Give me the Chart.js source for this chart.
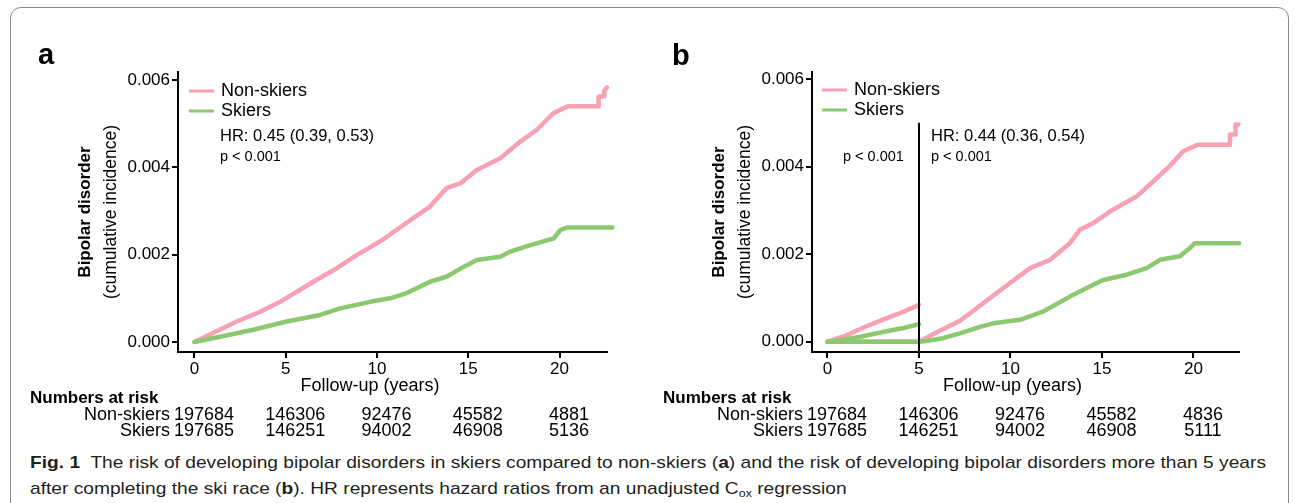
<!DOCTYPE html>
<html><head><meta charset="utf-8">
<script src="https://cdn.jsdelivr.net/npm/chart.js@4.4.1/dist/chart.umd.min.js"></script>
<style>
html,body{margin:0;padding:0;background:#fff;}
body{width:1295px;height:503px;position:relative;overflow:hidden;font-family:"Liberation Sans",Arial,sans-serif;}
#frame{position:absolute;left:10px;top:7px;width:1279px;height:530px;border:1.5px solid #8a8a8a;border-radius:11px;box-sizing:border-box;}
canvas{position:absolute;top:0;}
#ca{left:0;}
#cb{left:640px;}
#caption{position:absolute;left:30px;top:450px;font-family:"Liberation Sans Narrow","Liberation Sans",Arial,sans-serif;font-size:17px;color:#231f20;line-height:26px;white-space:nowrap;transform-origin:0 0;}
#caption div{display:inline-block;}
#caption sub{font-size:11px;line-height:0;vertical-align:-3px;}
</style></head>
<body>
<div id="frame"></div>
<canvas id="ca" width="645" height="445"></canvas>
<canvas id="cb" width="655" height="445"></canvas>
<div id="caption"><div id="cap1"><b>Fig. 1</b>&nbsp; The risk of developing bipolar disorders in skiers compared to non-skiers (<b>a</b>) and the risk of developing bipolar disorders more than 5 years</div><br><div id="cap2">after completing the ski race (<b>b</b>). HR represents hazard ratios from an unadjusted C<sub>ox</sub> regression</div></div>
<script>
// ---------- data ----------
const groups = ['Non-skiers', 'Skiers'];
const xTicks = [0, 5, 10, 15, 20];
const yTicks = [0, 0.002, 0.004, 0.006];
const riskYears = [0, 5, 10, 15, 20];

const aRiskNonSkiers = [197684, 146306, 92476, 45582, 4881];
const aRiskSkiers    = [197685, 146251, 94002, 46908, 5136];
const bRiskNonSkiers = [197684, 146306, 92476, 45582, 4836];
const bRiskSkiers    = [197685, 146251, 94002, 46908, 5111];

const aNonSkiersYears = [0, 1.04, 2.31, 3.59, 4.69, 6.51, 7.8, 8.89, 10.3, 11.45, 12.9, 13.83, 14.56, 15.47, 16.75, 17.85, 18.76, 19.67, 20.2, 20.5, 22.14, 22.14, 22.45, 22.45, 22.6];
const aNonSkiersCI    = [0, 0.00021, 0.00047, 0.00069, 0.00092, 0.00138, 0.00169, 0.00199, 0.00234, 0.00268, 0.0031, 0.00353, 0.00363, 0.00394, 0.00421, 0.00459, 0.00486, 0.00524, 0.00535, 0.0054, 0.0054, 0.00562, 0.00562, 0.00575, 0.00583];
const aSkiersYears = [0, 1.4, 3.22, 5.05, 6.88, 7.98, 9.62, 10.72, 11.63, 12.91, 13.83, 14.74, 15.47, 16.75, 17.3, 18.4, 19.67, 20.04, 20.4, 22.9];
const aSkiersCI    = [0, 0.00012, 0.00028, 0.00047, 0.00062, 0.00077, 0.00092, 0.001, 0.00112, 0.00138, 0.0015, 0.00172, 0.00188, 0.00195, 0.00207, 0.00222, 0.00237, 0.00256, 0.00262, 0.00262];

const bNonSkiersPreYears = [0, 1, 2, 3, 4, 5];
const bNonSkiersPreCI    = [0, 0.00014, 0.00033, 0.0005, 0.00066, 0.00084];
const bSkiersPreYears = [0, 1, 2, 3, 4, 5];
const bSkiersPreCI    = [0, 0.00005, 0.00013, 0.00022, 0.0003, 0.0004];
const bNonSkiersPostYears = [0, 5, 6, 7.24, 8.51, 9.97, 11.07, 12.16, 13.25, 13.8, 14.52, 15.62, 16.9, 17.8, 18.7, 19.44, 20.26, 22.0, 22.0, 22.3, 22.3, 22.45];
const bNonSkiersPostCI    = [0, 0, 0.00022, 0.00048, 0.00088, 0.00134, 0.00168, 0.00187, 0.00225, 0.00256, 0.00271, 0.00302, 0.00332, 0.00366, 0.00401, 0.00435, 0.0045, 0.0045, 0.00473, 0.00473, 0.00496, 0.00496];
const bSkiersPostYears = [0, 5, 5.5, 6.3, 7.24, 8.33, 9.06, 10.52, 11.79, 13.25, 14.52, 15.07, 16.35, 17.44, 18.17, 19.26, 19.81, 20.08, 22.5];
const bSkiersPostCI    = [0, 0, 0.00002, 0.00008, 0.00019, 0.00034, 0.00042, 0.0005, 0.00069, 0.00103, 0.0013, 0.00141, 0.00153, 0.00168, 0.00187, 0.00195, 0.00214, 0.00225, 0.00225];

const landmarkYear = 5;
const landmarkTop = 0.005;
const aHR = 'HR: 0.45 (0.39, 0.53)';
const bHR = 'HR: 0.44 (0.36, 0.54)';
const pText = 'p < 0.001';

// ---------- styles ----------
const FONT = '"Liberation Sans", Arial, sans-serif';
const PINK = '#f7a1b3';
const GREEN = '#8cc870';

function pts(xs, ys) { return xs.map((x, i) => ({ x: x, y: ys[i] })); }
function ds(xs, ys, color) {
  return { data: pts(xs, ys), borderColor: color, borderWidth: 4.5, pointRadius: 0, tension: 0,
    fill: false, clip: false, borderCapStyle: 'round', borderJoinStyle: 'round' };
}
function txt(ctx, s, x, y, font, align, base) {
  ctx.font = font; ctx.textAlign = align || 'left'; ctx.textBaseline = base || 'middle';
  ctx.fillStyle = '#000'; ctx.fillText(s, x, y);
}

function panelPlugin(p) {
  return {
    id: 'panel' + p.letter,
    afterDraw(chart) {
      const ctx = chart.ctx, xs = chart.scales.x, ys = chart.scales.y, ca = chart.chartArea, ox = p.ox;
      ctx.save();
      txt(ctx, p.letter, p.letterX - ox, p.letterY, 'bold 29px ' + FONT, 'left', 'alphabetic');
      // legend
      [PINK, GREEN].forEach((c, i) => {
        const y = p.legY + i * 20;
        ctx.strokeStyle = c; ctx.lineWidth = 3; ctx.lineCap = 'butt';
        ctx.beginPath(); ctx.moveTo(p.legX - ox, y); ctx.lineTo(p.legX - ox + 25, y); ctx.stroke();
        txt(ctx, groups[i], p.legX - ox + 32, y, '18px ' + FONT);
      });
      txt(ctx, p.hr, p.hrX - ox, 136, '16.5px ' + FONT);
      txt(ctx, pText, p.hrX - ox, 157, '14.5px ' + FONT);
      if (p.landmark) {
        const lx = xs.getPixelForValue(landmarkYear);
        ctx.strokeStyle = '#000'; ctx.lineWidth = 2;
        ctx.beginPath(); ctx.moveTo(lx, ys.getPixelForValue(landmarkTop)); ctx.lineTo(lx, ca.bottom); ctx.stroke();
        txt(ctx, pText, lx - 76, 157, '14.5px ' + FONT);
      }
      // y title
      ctx.save();
      ctx.translate(ca.left - 93, (ca.top + ca.bottom) / 2);
      ctx.rotate(-Math.PI / 2);
      txt(ctx, 'Bipolar disorder', 0, 0, 'bold 17px ' + FONT, 'center', 'middle');
      ctx.restore();
      ctx.save();
      ctx.translate(ca.left - 67, (ca.top + ca.bottom) / 2);
      ctx.rotate(-Math.PI / 2);
      txt(ctx, '(cumulative incidence)', 0, 0, '17.5px ' + FONT, 'center', 'middle');
      ctx.restore();
      // x title
      txt(ctx, 'Follow-up (years)', xs.getPixelForValue(10) + p.xTitleDx, 386, '18px ' + FONT, 'center');
      // numbers at risk
      txt(ctx, 'Numbers at risk', p.nrX - ox, 398, 'bold 17px ' + FONT);
      const rows = [p.riskNon, p.riskSki];
      rows.forEach((row, r) => {
        const y = 415 + r * 16;
        txt(ctx, groups[r], xs.getPixelForValue(riskYears[0]) + 9.5 - 34, y, '18px ' + FONT, 'right');
        row.forEach((v, i) => {
          txt(ctx, String(v), xs.getPixelForValue(riskYears[i]) + 9.5, y, '18px ' + FONT, 'center');
        });
      });
      ctx.restore();
    }
  };
}

function makeChart(id, p, datasets) {
  const axisCommon = {
    grid: { display: true, drawOnChartArea: false, drawTicks: true, tickLength: 6, lineWidth: 2, color: '#000' },
    border: { display: true, color: '#000', width: 2 }
  };
  return new Chart(document.getElementById(id), {
    type: 'line',
    data: { datasets: datasets },
    options: {
      responsive: false, animation: false, devicePixelRatio: 1,
      layout: { padding: { left: 0, top: 72, right: p.padRight, bottom: 0 } },
      plugins: { legend: { display: false }, tooltip: { enabled: false } },
      scales: {
        x: Object.assign({}, axisCommon, {
          type: 'linear', min: p.xMin, max: p.xMax,
          afterBuildTicks: s => { s.ticks = xTicks.map(v => ({ value: v })); },
          afterFit: s => { s.height = 93; },
          ticks: { color: '#000', font: { family: FONT, size: 17 }, padding: 1, maxRotation: 0, autoSkip: false, callback: v => String(v) }
        }),
        y: Object.assign({}, axisCommon, {
          type: 'linear', min: p.yMin, max: p.yMax,
          afterBuildTicks: s => { s.ticks = yTicks.map(v => ({ value: v })); },
          afterFit: s => { s.width = p.yWidth; },
          ticks: { color: '#000', font: { family: FONT, size: 17 }, padding: 2, callback: v => v.toFixed(3) }
        })
      }
    },
    plugins: [panelPlugin(p)]
  });
}

makeChart('ca', {
  letter: 'a', ox: 0, letterX: 38, letterY: 64, legX: 189, legY: 91, hrX: 220, hr: aHR,
  xTitleDx: -7, nrX: 30, riskNon: aRiskNonSkiers, riskSki: aRiskSkiers,
  padRight: 38, yWidth: 178, xMin: -0.9, xMax: 22.6, yMin: -0.000229, yMax: 0.006183
}, [
  ds(aSkiersYears, aSkiersCI, GREEN),
  ds(aNonSkiersYears, aNonSkiersCI, PINK)
]);

makeChart('cb', {
  letter: 'b', ox: 640, letterX: 672, letterY: 65, legX: 822, legY: 90, hrX: 931, hr: bHR, landmark: true,
  xTitleDx: 2, nrX: 663, riskNon: bRiskNonSkiers, riskSki: bRiskSkiers,
  padRight: 56, yWidth: 172, xMin: -0.847, xMax: 22.49, yMin: -0.000235, yMax: 0.00616
}, [
  ds(bSkiersPostYears, bSkiersPostCI, GREEN),
  ds(bSkiersPreYears, bSkiersPreCI, GREEN),
  ds(bNonSkiersPostYears, bNonSkiersPostCI, PINK),
  ds(bNonSkiersPreYears, bNonSkiersPreCI, PINK)
]);

// caption fit
(function () {
  const cap = document.getElementById('caption');
  const w = document.getElementById('cap1').getBoundingClientRect().width;
  cap.style.transform = 'scaleX(' + (1236 / w) + ')';
})();
</script>
</body></html>
